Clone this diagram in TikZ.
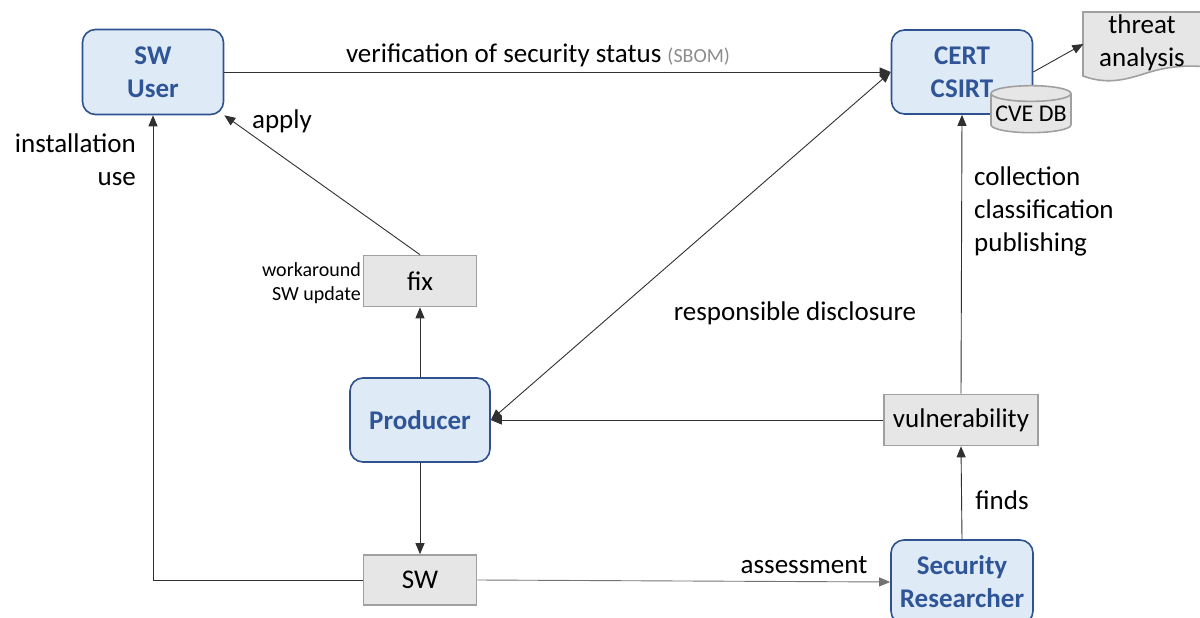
\documentclass[tikz,border=0pt]{standalone}
\usepackage{fontspec}
\setmainfont{Carlito}
\usetikzlibrary{arrows.meta,shapes.geometric}
\definecolor{bfill}{HTML}{DEEBF7}
\definecolor{bdraw}{HTML}{2F528F}
\definecolor{btext}{HTML}{2F5597}
\definecolor{gfill}{HTML}{E6E6E6}
\definecolor{gdraw}{HTML}{A0A0A0}
\definecolor{lcol}{HTML}{303030}
\definecolor{sbom}{HTML}{8C8C8C}
\begin{document}
\begin{tikzpicture}[x=1pt,y=-1pt,
  big/.style={font=\fontsize{27}{33}\selectfont},
  small/.style={font=\fontsize{20}{24}\selectfont},
  actor/.style={draw=bdraw,fill=bfill,line width=1.6pt,rounded corners=13pt,
    text=btext,align=center,inner sep=0pt,font=\fontsize{27}{33}\selectfont\bfseries},
  thing/.style={draw=gdraw,fill=gfill,line width=1.6pt,inner sep=0pt,
    font=\fontsize{27}{33}\selectfont},
  lbl/.style={inner sep=0pt,font=\fontsize{27}{33}\selectfont},
  conn/.style={draw=lcol,line width=0.9pt,-{Triangle[length=11pt,width=9pt]}},
]
\useasboundingbox (0,0) rectangle (1200,618);
\begin{scope}
\clip (0,0) rectangle (1200,618);
% actors
\node[actor,minimum width=141pt,minimum height=85pt] (user) at (153,72) {SW\\User};
\node[actor,minimum width=141pt,minimum height=84pt] (cert) at (962,72) {CERT\\CSIRT};
\node[actor,minimum width=140pt,minimum height=84pt] (prod) at (420,420) {Producer};
\node[actor,minimum width=142pt,minimum height=84pt] (res) at (962,582) {Security\\Researcher};
% things
\node[thing,minimum width=113pt,minimum height=51pt] (fix) at (420,281) {fix};
\node[thing,minimum width=113pt,minimum height=50pt] (sw) at (420,580) {SW};
\node[thing,minimum width=154pt,minimum height=51pt] (vuln) at (961,420) {vulnerability};
\node[cylinder,shape border rotate=90,aspect=0.22,draw=gdraw,fill=gfill,line width=1.6pt,
  minimum width=80pt,minimum height=47pt,inner sep=0pt,
  font=\fontsize{24}{28}\selectfont] (cve) at (1031,113.5) {\raisebox{-5pt}{CVE DB}};
% threat analysis document
\node[inner sep=0pt,minimum width=117pt,minimum height=64pt] (threat) at (1142,44) {};
\draw[draw=gdraw,fill=gfill,line width=1.6pt]
  (1083,12) -- (1206,12) -- (1206,67)
  .. controls (1190,65) and (1170,66) .. (1150,72)
  .. controls (1130,78) and (1110,86) .. (1083,76) -- cycle;
\node[big,inner sep=0pt,align=center] (threattext) at (1142,43) {threat\\analysis};
% connectors
\draw[conn] (user.east) -- (cert.west);
\draw[conn] (cert.east) -- (threat.west);
\draw[conn] (fix.north) -- (user.south east);
\draw[conn] (sw.west) -| (user.south);
\draw[conn] (prod.north) -- (fix.south);
\draw[conn] (prod.south) -- (sw.north);
\draw[conn,draw=black!55] (sw.east) -- (res.west);
\draw[conn] (vuln.west) -- (prod.east);
\draw[conn] (vuln.north) -- (cert.south);
\draw[conn] (res.north) -- (vuln.south);
\draw[draw=lcol,line width=0.9pt,{Triangle[length=11pt,width=9pt]}-{Triangle[length=11pt,width=9pt]}] (prod.east) -- (cert.west);
% labels
\node[lbl] (verif) at (538,55) {verification of security status {\fontsize{20}{24}\selectfont\color{sbom}(SBOM)}};
\node[lbl] (apply) at (282,121) {apply};
\node[lbl,anchor=east,align=right] (inst) at (136,160) {installation\\use};
\node[inner sep=0pt,anchor=east,align=right,font=\fontsize{20}{24}\selectfont] (work) at (361,283) {workaround\\SW update};
\node[lbl] (resp) at (795,313) {responsible disclosure};
\node[lbl,anchor=west,align=left] (coll) at (974,211) {collection\\classification\\publishing};
\node[lbl] (finds) at (1002,500) {finds};
\node[lbl] (assess) at (804,565) {assessment};
\end{scope}
\end{tikzpicture}
\end{document}
